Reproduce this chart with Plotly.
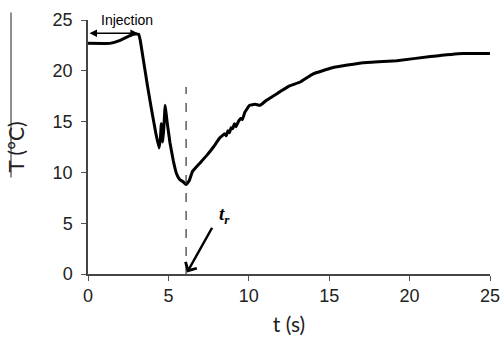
import plotly.graph_objects as go

# Temperature curve
t = [0, 1.35, 2.0, 2.8, 3.15, 3.25, 3.45, 3.7, 3.95, 4.2, 4.42, 4.5, 4.56, 4.65,
     4.72, 4.8, 4.88, 4.95, 5.1, 5.3, 5.5, 5.7, 5.9, 6.1, 6.3, 6.5, 6.95, 7.4,
     7.8, 8.2, 8.5, 8.6, 8.7, 8.8, 8.9, 9.0, 9.1, 9.2, 9.35, 9.5, 9.6, 9.75,
     10.05, 10.4, 10.7, 11.1, 11.9, 12.5, 13.2, 14.0, 15.2, 17.1, 19.2, 21.3,
     23.3, 25]
T = [22.7, 22.7, 23.0, 23.6, 23.6, 23.0, 21.0, 18.5, 16.2, 14.0, 12.4, 13.3,
     14.8, 13.0, 14.5, 16.6, 15.5, 14.6, 12.9, 11.2, 9.9, 9.3, 9.1, 8.8, 9.2,
     10.1, 10.9, 11.7, 12.5, 13.4, 13.8, 13.6, 14.1, 13.9, 14.4, 14.3, 14.8,
     14.5, 15.0, 15.3, 15.2, 15.9, 16.6, 16.7, 16.6, 17.1, 17.9, 18.5, 18.9,
     19.7, 20.3, 20.8, 21.0, 21.4, 21.7, 21.7]

x_ticks = [0, 5, 10, 15, 20, 25]
y_ticks = [0, 5, 10, 15, 20, 25]

t_r = 6.1
t_r_top = 18.4
inj_start, inj_end, inj_level = 0, 3.1, 23.7
tr_tail = (7.77, 4.7)
tr_head = (6.16, 0.15)

fig = go.Figure()
fig.add_trace(go.Scatter(x=t, y=T, mode="lines",
                         line=dict(color="black", width=3, shape="spline", smoothing=0.3),
                         showlegend=False, hoverinfo="skip"))

# dashed vertical line at t_r
fig.add_shape(type="line", x0=t_r, x1=t_r, y0=0, y1=t_r_top,
              xref="x", yref="y", line=dict(color="#333", width=1.2, dash="dash"))

# injection double arrow
fig.add_annotation(x=inj_end, y=inj_level, ax=inj_start, ay=inj_level,
                   xref="x", yref="y", axref="x", ayref="y", text="",
                   showarrow=True, arrowhead=2, arrowside="end+start",
                   arrowwidth=1.5, arrowsize=1, arrowcolor="black")
fig.add_annotation(x=2.4, y=1.0, xref="x", yref="paper", text="Injection",
                   showarrow=False, yanchor="middle", xanchor="center",
                   font=dict(family="Liberation Sans", size=14, color="black"))

# t_r arrow and label
fig.add_annotation(x=tr_head[0], y=tr_head[1], ax=tr_tail[0], ay=tr_tail[1],
                   xref="x", yref="y", axref="x", ayref="y", text="",
                   showarrow=True, arrowhead=4, arrowwidth=2.5, arrowsize=1,
                   arrowcolor="black")
fig.add_annotation(x=8.5, y=5.8, xref="x", yref="y",
                   text="<b><i>t<sub>r</sub></i></b>", showarrow=False,
                   font=dict(family="Liberation Serif", size=19, color="black"))

# stray vertical rule at far left
fig.add_shape(type="line", xref="paper", yref="paper",
              x0=-0.1915, x1=-0.1915, y0=0.38, y1=1.03,
              line=dict(color="#444", width=1.2))

fig.update_xaxes(range=[0, 25], tickvals=x_ticks, ticks="outside", ticklen=5,
                 tickcolor="#555", showline=True, linecolor="#444", linewidth=1.5,
                 showgrid=False, zeroline=False, automargin=False,
                 tickfont=dict(family="Liberation Sans", size=18, color="#222"),
                 title=dict(text="t (s)", standoff=12,
                            font=dict(family="Lato", size=21, color="#222")))
fig.update_yaxes(range=[0, 25], tickvals=y_ticks, ticks="outside", ticklen=5,
                 tickcolor="#555", showline=True, linecolor="#444", linewidth=1.5,
                 showgrid=False, zeroline=False, automargin=False,
                 ticklabelstandoff=5,
                 tickfont=dict(family="Liberation Sans", size=18, color="#222"),
                 title=dict(text="T (°C)", standoff=22,
                            font=dict(family="Lato", size=21, color="#222")))

fig.update_layout(width=504, height=339, plot_bgcolor="white", paper_bgcolor="white",
                  margin=dict(l=88, r=14, t=20, b=65))
fig.write_html("out.html")
